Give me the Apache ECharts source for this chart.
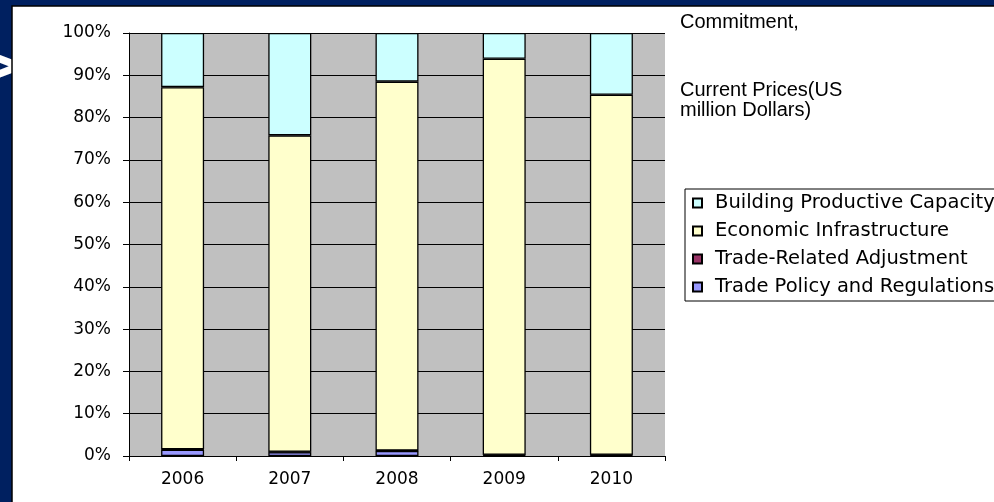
<!DOCTYPE html>
<html>
<head>
<meta charset="utf-8">
<script src="https://cdn.jsdelivr.net/npm/echarts@6/dist/echarts.min.js"></script>
<style>
  html, body { margin: 0; padding: 0; background: #002060; }
  #chart { width: 994px; height: 502px; }
</style>
</head>
<body>
<div id="chart"></div>
<script>
// Aid for Trade commitments, share of each category per year (%)
const years = ['2006', '2007', '2008', '2009', '2010'];
const tradePolicy = [1.5, 0.9, 1.2, 0.2, 0.2];
const tradeAdjustment = [0.1, 0.1, 0.1, 0.1, 0.1];
const economicInfra = [85.6, 74.8, 87.2, 93.6, 85.1];
const productiveCapacity = [12.8, 24.2, 11.5, 6.1, 14.6];
const yTicks = [0, 10, 20, 30, 40, 50, 60, 70, 80, 90, 100];

const FONT = '"Liberation Sans", Arial, sans-serif';
const WIDE = '"DejaVu Sans", "Liberation Sans", sans-serif';

const chart = echarts.init(document.getElementById('chart'));

function barSeries(name, data, color) {
  return {
    name: name,
    type: 'bar',
    stack: 'share',
    data: data,
    barWidth: 43,
    itemStyle: { color: color, borderColor: '#000', borderWidth: 1.3 },
    emphasis: { disabled: true }
  };
}

chart.setOption({
  backgroundColor: '#002060',
  animation: false,
  textStyle: { fontFamily: WIDE },
  graphic: [
    // slide bullet peeking out from behind the white panel
    { type: 'text', z: -20, x: 18, y: 70,
      style: { text: '>', fill: '#fff', font: 'bold 68px ' + FONT, align: 'right', verticalAlign: 'middle' } },
    { type: 'rect', z: -10, shape: { x: 12, y: 6, width: 1000, height: 510 },
      style: { fill: '#fff', stroke: '#000', lineWidth: 1.5 } },
    { type: 'text', left: 680, top: 12,
      style: { text: 'Commitment,', fill: '#000', font: '20px ' + FONT } },
    { type: 'text', left: 680, top: 80,
      style: { text: 'Current Prices(US', fill: '#000', font: '20px ' + FONT } },
    { type: 'text', left: 680, top: 100,
      style: { text: 'million Dollars)', fill: '#000', font: '20px ' + FONT } }
  ],
  legend: {
    orient: 'vertical',
    left: 685,
    top: 189,
    padding: [4, 60, 4, 7],
    itemWidth: 9,
    itemHeight: 9,
    itemGap: 8,
    icon: 'rect',
    borderColor: '#000',
    borderWidth: 1,
    backgroundColor: '#fff',
    textStyle: { fontSize: 19.5, lineHeight: 19, color: '#000', fontFamily: WIDE, padding: [0, 0, 0, 8] },
    data: ['Building Productive Capacity', 'Economic Infrastructure',
           'Trade-Related Adjustment', 'Trade Policy and Regulations']
  },
  grid: {
    left: 129, top: 33, width: 536, height: 423,
    show: true, backgroundColor: '#c0c0c0', borderWidth: 0
  },
  xAxis: {
    type: 'category',
    data: years,
    axisLine: { lineStyle: { color: '#000', width: 1 } },
    axisTick: { show: true, length: 5, lineStyle: { color: '#000' } },
    axisLabel: { color: '#000', fontSize: 17, margin: 15, fontFamily: WIDE }
  },
  yAxis: {
    type: 'value',
    min: 0, max: 100, interval: 10,
    axisLine: { show: true, lineStyle: { color: '#000', width: 1 } },
    axisTick: { show: true, length: 6, lineStyle: { color: '#000' } },
    axisLabel: {
      color: '#000', fontSize: 17, margin: 18, fontFamily: WIDE,
      formatter: v => (yTicks.includes(v) ? v + '%' : '')
    },
    splitLine: { lineStyle: { color: '#000', width: 1 } }
  },
  series: [
    barSeries('Trade Policy and Regulations', tradePolicy, '#9999ff'),
    barSeries('Trade-Related Adjustment', tradeAdjustment, '#993366'),
    barSeries('Economic Infrastructure', economicInfra, '#ffffcc'),
    barSeries('Building Productive Capacity', productiveCapacity, '#ccffff')
  ]
});
</script>
</body>
</html>
